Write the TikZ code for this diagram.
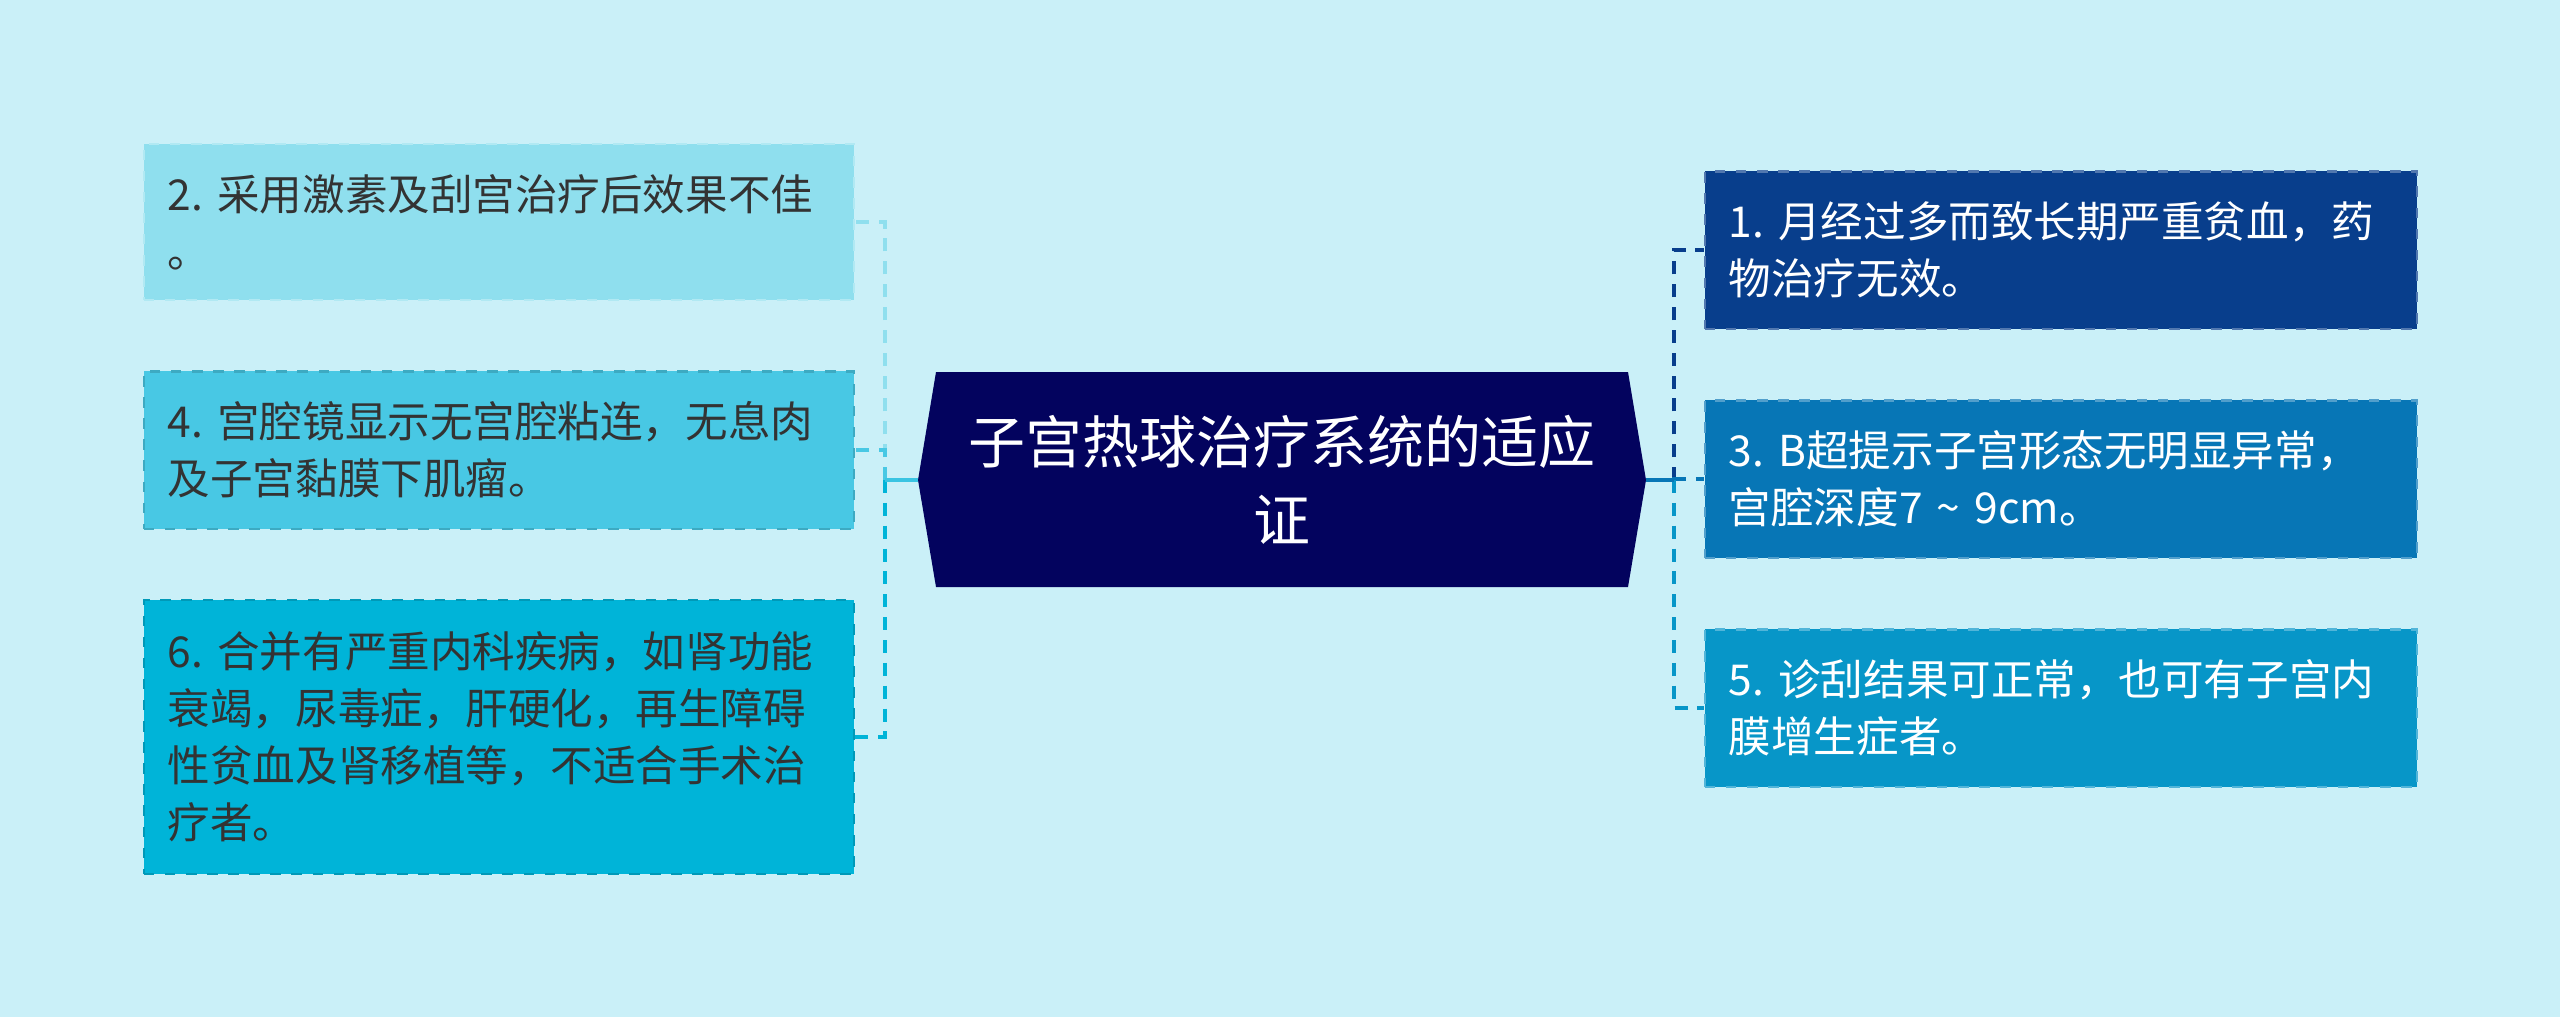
\documentclass[tikz,border=0pt]{standalone}
\usepackage{fontspec}
\newfontfamily\cjk{Noto Sans CJK SC}
\usetikzlibrary{calc}

\definecolor{bgcol}{HTML}{CAF0F8}
\definecolor{rootcol}{HTML}{03035E}
\definecolor{txtdark}{HTML}{333333}
\definecolor{ctwo}{HTML}{8FDFEE}
\definecolor{cfour}{HTML}{48C8E4}
\definecolor{csix}{HTML}{00B4D8}
\definecolor{cone}{HTML}{083E8C}
\definecolor{cthree}{HTML}{0776B6}
\definecolor{cfive}{HTML}{0796C8}

\begin{document}
\frenchspacing
\begin{tikzpicture}[x=0.01cm, y=-0.01cm,
  lbox/.style 2 args={fill=#1, draw=#2, dashed, line width=0.6pt,
    inner xsep=0.24cm, inner ysep=0pt, text width=6.62cm, align=left,
    minimum width=7.1cm, text=txtdark,
    font=\cjk\fontsize{12.1}{16.2}\selectfont},
  rbox/.style 2 args={fill=#1, draw=#2, dashed, line width=0.6pt,
    inner xsep=0.24cm, inner ysep=0pt, text width=6.64cm, align=left,
    minimum width=7.12cm, minimum height=1.57cm, text=white,
    font=\cjk\fontsize{12.1}{16.2}\selectfont},
  link/.style={line width=1.1pt, dash pattern=on 3.7pt off 2.8pt},
  stub/.style={line width=1.1pt}]
  \fill[bgcol] (0,0) rectangle (2560,1017);
  \useasboundingbox (0,0) rectangle (2560,1017);

  % 中心
  \coordinate (rootL) at (918,480);
  \coordinate (rootR) at (1646,480);
  \fill[rootcol] (936,372) -- (1628,372) -- (rootR) -- (1628,587)
    -- (936,587) -- (rootL) -- cycle;
  \node[text=white, align=center,
    font=\cjk\fontsize{16.2}{22.2}\selectfont] (root) at (1282,480)
    {子宫热球治疗系统的适应\\证};

  % 左边
  \node[lbox={ctwo}{ctwo!70!white}, minimum height=1.56cm] (l2) at (499,222)
    {2. 采用激素及刮宫治疗后效果不佳\\。};
  \node[lbox={cfour}{cfour!85!black}, minimum height=1.57cm] (l4) at (499,450)
    {4. 宫腔镜显示无宫腔粘连，无息肉\\及子宫黏膜下肌瘤。};
  \node[lbox={csix}{csix!85!black}, minimum height=2.73cm] (l6) at (499,737)
    {6. 合并有严重内科疾病，如肾功能\\衰竭，尿毒症，肝硬化，再生障碍\\性贫血及肾移植等，不适合手术治\\疗者。};

  % 右边
  \node[rbox={cone}{cone!70!white}] (r1) at (2061,250)
    {1. 月经过多而致长期严重贫血，药\\物治疗无效。};
  \node[rbox={cthree}{cthree!70!white}] (r3) at (2061,479)
    {3. B超提示子宫形态无明显异常，\\宫腔深度7 \textasciitilde{} 9cm。};
  \node[rbox={cfive}{cfive!70!white}] (r5) at (2061,708)
    {5. 诊刮结果可正常，也可有子宫内\\膜增生症者。};

  % 连线
  \coordinate (busL) at (885,480);
  \coordinate (busR) at (1674,480);
  \draw[link, ctwo] (busL) |- (l2.east);
  \draw[link, cfour] (busL) |- (l4.east);
  \draw[link, csix] (busL) |- (l6.east);
  \draw[stub, cfour!80!csix] (rootL) -- (busL);
  \draw[link, cone] (busR) |- (r1.west);
  \draw[link, cthree] (busR) |- (r3.west);
  \draw[link, cfive] (busR) |- (r5.west);
  \draw[stub, cthree] (rootR) -- (busR);
\end{tikzpicture}
\end{document}
